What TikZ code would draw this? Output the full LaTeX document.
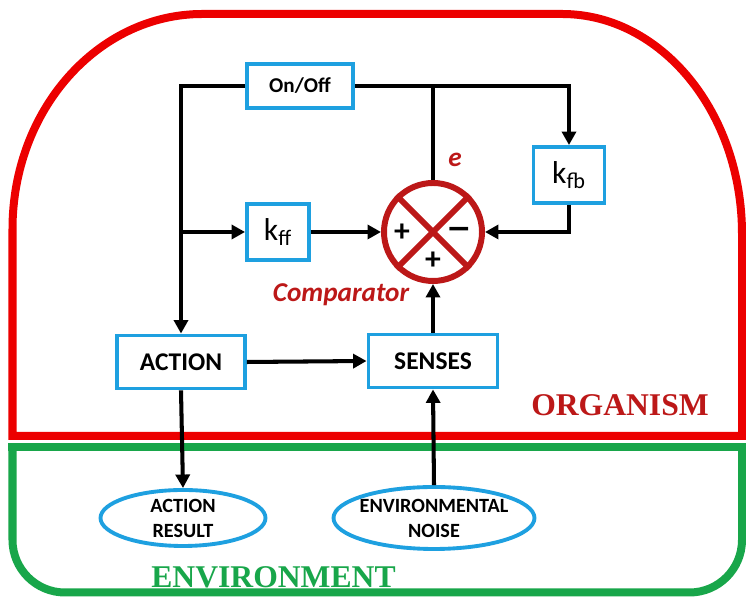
\documentclass[tikz,border=0pt]{standalone}
\usepackage{fontspec}
\setmainfont{Carlito}
\newfontfamily\titlefont{Liberation Serif}
\newfontfamily\symbfont{DejaVu Sans}
\usepackage{tikz}
\usetikzlibrary{positioning, arrows.meta, calc, shapes.geometric}
\definecolor{cBlue}{RGB}{30,160,224}
\definecolor{cRed}{RGB}{236,0,0}
\definecolor{cDark}{RGB}{188,24,24}
\definecolor{cGreen}{RGB}{24,166,74}

\begin{document}
\begin{tikzpicture}[line width=2.3pt, >={Triangle[length=0.27cm,width=0.28cm]},
    block/.style={draw=cBlue, line width=2.2pt, fill=white, inner sep=0pt,
                  font=\bfseries\fontsize{14.5}{17}\selectfont},
    gain/.style={block, font=\fontsize{18}{20}\selectfont, minimum width=1.24cm, minimum height=1.12cm},
    outcome/.style={ellipse, draw=cBlue, line width=2.2pt, fill=white, inner xsep=-0.4cm, inner ysep=-0.1cm,
                    align=center, font=\bfseries\fontsize{11.5}{14.2}\selectfont},
    sign/.style={font=\bfseries\fontsize{18}{18}\selectfont, inner sep=0pt},
    redtext/.style={text=cDark, font=\bfseries\itshape\fontsize{15.5}{17}\selectfont},
    region/.style={font=\titlefont\bfseries\fontsize{18}{20}\selectfont}]

    \useasboundingbox (0,0) rectangle (14.92,11.96);

    % Organism and environment borders
    \draw[cRed, line width=0.16cm] (0.25,3.24) -- (0.25,7.38)
        arc[start angle=180, end angle=90, x radius=3.8cm, y radius=4.3cm] -- (11.24,11.68)
        arc[start angle=90, end angle=0, x radius=3.6cm, y radius=4.4cm] -- (14.84,3.24) -- cycle;
    \draw[cGreen, line width=0.16cm, rounded corners=1.05cm] (0.25,3.02) -- (0.25,0.11) -- (14.84,0.11) -- (14.84,3.02);
    \draw[cGreen, line width=0.16cm, line cap=rect] (0.25,3.02) -- (14.84,3.02);

    % Node Placements
    \node[block, minimum width=2.12cm, minimum height=0.88cm, font=\bfseries\fontsize{12}{14}\selectfont] (onoff) at (6.0,10.24) {On/Off};
    \node[gain] (kff) at (5.56,7.32) {k\textsubscript{ff}};
    \node[gain, minimum width=1.42cm] (kfb) at (11.38,8.46) {k\textsubscript{fb}};
    \node[circle, draw=cDark, line width=3.4pt, minimum size=1.96cm, inner sep=0pt] (comp) at (8.66,7.32) {};
    \draw[cDark, line width=3.4pt] (comp.45) -- (comp.225) (comp.135) -- (comp.315);
    \node[sign] (plusin) at ($(comp)+(-0.62,-0.02)$) {+};
    \node[sign, font=\symbfont\bfseries\fontsize{17}{17}\selectfont] (minusin) at ($(comp)+(0.52,-0.02)$) {−};
    \node[sign] (plusup) at ($(comp)+(0,-0.58)$) {+};
    \node[redtext] (complabel) at (6.82,6.06) {Comparator};
    \node[redtext] (err) at (9.1,8.76) {e};

    \node[block, minimum width=2.56cm, minimum height=1.06cm] (action) at (3.62,4.72) {ACTION};
    \node[block, minimum width=2.58cm, minimum height=1.06cm] (senses) at (8.66,4.74) {SENSES};
    \node[outcome, minimum width=3.3cm, minimum height=1.12cm] (result) at (3.66,1.6) {ACTION\\RESULT};
    \node[outcome, minimum width=4.02cm, minimum height=1.24cm] (noise) at (8.68,1.6) {ENVIRONMENTAL\\NOISE};

    \node[region, text=cDark] (organism) at (12.4,3.86) {ORGANISM};
    \node[region, text=cGreen] (environment) at (5.47,0.42) {ENVIRONMENT};

    % Connectors
    \draw[->] (onoff.west) -| (action.north);
    \draw[->] (onoff.east) -| (kfb.north);
    \draw (comp.north |- onoff.east) -- (comp.north);
    \draw[->] (kfb.south) |- (comp.east);
    \draw[->] (action.north |- kff.west) -- (kff.west);
    \draw[->] (kff.east) -- (comp.west);
    \draw[->] (action.east) -- (senses.west);
    \draw[->] (senses.north) -- (comp.south);
    \draw[->] (action.south) -- (result.north);
    \draw[->] (noise.north) -- (senses.south);
\end{tikzpicture}
\end{document}
